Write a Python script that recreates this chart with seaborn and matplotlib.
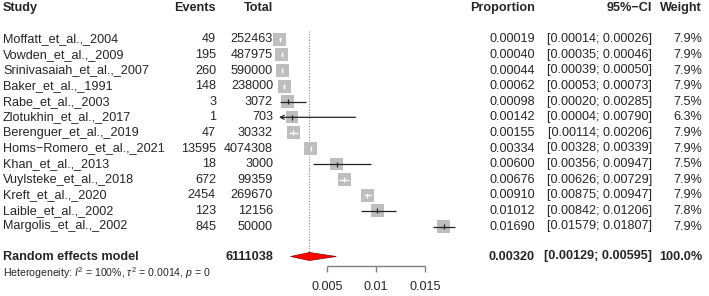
import numpy as np
import pandas as pd
import matplotlib
matplotlib.use("Agg")
import matplotlib.pyplot as plt
import seaborn as sns

# dados do forest plot
studies = ["Moffatt_et_al._2004", "Vowden_et_al._2009", "Srinivasaiah_et_al._2007",
           "Baker_et_al._1991", "Rabe_et_al._2003", "Zlotukhin_et_al._2017",
           "Berenguer_et_al._2019", "Homs\u2212Romero_et_al._2021", "Khan_et_al._2013",
           "Vuylsteke_et_al._2018", "Kreft_et_al._2020", "Laible_et_al._2002",
           "Margolis_et_al._2002"]
studies = [s.replace("al._", "al.,_") for s in studies]
events = [49, 195, 260, 148, 3, 1, 47, 13595, 18, 672, 2454, 123, 845]
totals = [252463, 487975, 590000, 238000, 3072, 703, 30332, 4074308, 3000, 99359, 269670, 12156, 50000]
prop = [0.00019, 0.00040, 0.00044, 0.00062, 0.00098, 0.00142, 0.00155, 0.00334, 0.00600,
        0.00676, 0.00910, 0.01012, 0.01690]
lower = [0.00014, 0.00035, 0.00039, 0.00053, 0.00020, 0.00004, 0.00114, 0.00328, 0.00356,
         0.00626, 0.00875, 0.00842, 0.01579]
upper = [0.00026, 0.00046, 0.00050, 0.00073, 0.00285, 0.00790, 0.00206, 0.00339, 0.00947,
         0.00729, 0.00947, 0.01206, 0.01807]
weights = [7.9, 7.9, 7.9, 7.9, 7.5, 6.3, 7.9, 7.9, 7.5, 7.9, 7.9, 7.8, 7.9]
pooled = 0.00320
pooled_lo = 0.00129
pooled_hi = 0.00595
xticks = [0.005, 0.01, 0.015]
xtick_labels = ["0.005", "0.01", "0.015"]

sns.set_style("white")
plt.rcParams['font.family'] = ['Liberation Sans', 'DejaVu Sans']
plt.rcParams['mathtext.fontset'] = 'custom'
plt.rcParams['mathtext.rm'] = 'Liberation Sans'
plt.rcParams['mathtext.it'] = 'Liberation Sans:italic'

W, H = 709, 296
fig = plt.figure(figsize=(W / 100, H / 100), dpi=100)

# eixo de texto em coordenadas de pixel
axt = fig.add_axes([0, 0, 1, 1])
axt.set_xlim(0, W)
axt.set_ylim(H, 0)
axt.axis("off")

# eixo do forest plot (escala de dados)
px0, pxu = 278, 9800.0   # pixel do zero e pixels por unidade
L, R = 268, 462
axf = fig.add_axes([L / W, 0, (R - L) / W, 1])
axf.set_xlim((L - px0) / pxu, (R - px0) / pxu)
axf.set_ylim(H, 0)
axf.axis("off")

fs = 9.1
y_head = 8
y0, dy = 39.3, 15.6
ys = [y0 + i * dy for i in range(len(studies))]
y_pool = 256.5
y_het = 273
y_axis = 265.5

# cabeçalho
cols = [(3, "left", "Study"), (216, "right", "Events"), (273, "right", "Total"),
        (535, "right", "Proportion"), (652, "right", "95%\u2212CI"), (702, "right", "Weight")]
for x, ha, t in cols:
    axt.text(x, y_head, t, ha=ha, va="center", fontsize=fs, fontweight="bold")

for i, y in enumerate(ys):
    row = [studies[i], str(events[i]), str(totals[i]), f"{prop[i]:.5f}",
           f"[{lower[i]:.5f}; {upper[i]:.5f}]", f"{weights[i]:.1f}%"]
    for (x, ha, _), t in zip(cols, row):
        t = t.replace("-", "\u2212")
        axt.text(x, y, t, ha=ha, va="center", fontsize=fs)

pool_row = ["Random effects model", "", str(sum(totals)), f"{pooled:.5f}",
            f"[{pooled_lo:.5f}; {pooled_hi:.5f}]", "100.0%"]
for (x, ha, _), t in zip(cols, pool_row):
    axt.text(x, y_pool, t, ha=ha, va="center", fontsize=fs, fontweight="bold")

axt.text(3, y_het, r"Heterogeneity: $I^2$ = 100%, $\tau^2$ = 0.0014, $p$ = 0",
         ha="left", va="center", fontsize=7.6)

# linha pontilhada do efeito combinado
axf.vlines(pooled, ys[0] - 8, y_pool, color="#888888", linestyle=(0, (1, 1.5)), lw=0.8)

# quadrados (área proporcional ao peso)
df = pd.DataFrame({"prop": prop, "y": ys, "weight": weights})
k = 87.6 / 7.9
sns.scatterplot(data=df, x="prop", y="y", size="weight",
                sizes=(min(weights) * k, max(weights) * k),
                size_norm=(min(weights), max(weights)),
                marker="s", color="#BEBEBE", edgecolor="none", legend=False, ax=axf, zorder=2)

clip_lo = 0.0001
for i, y in enumerate(ys):
    half = 13 * np.sqrt(weights[i] / 7.9) / 2 / pxu
    inside = (prop[i] - lower[i] < half) and (upper[i] - prop[i] < half)
    c = "white" if inside else "#222222"
    lo = max(lower[i], clip_lo)
    if lower[i] < clip_lo:
        axf.annotate("", xy=(clip_lo, y), xytext=(upper[i], y),
                     arrowprops=dict(arrowstyle="->", lw=0.9, color=c,
                                     shrinkA=0, shrinkB=0, mutation_scale=7), zorder=3)
    else:
        axf.hlines(y, lo, upper[i], color=c, lw=0.9, zorder=3)
    axf.vlines(prop[i], y - 2.5, y + 2.5, color=c, lw=0.9, zorder=3)

# diamante do modelo de efeitos aleatórios
axf.fill([pooled_lo, pooled, pooled_hi, pooled], [y_pool, y_pool - 4, y_pool, y_pool + 4],
         facecolor="#FF0000", edgecolor="#8B0000", lw=0.5, zorder=3)

# eixo x desenhado à mão
axf.hlines(y_axis, xticks[0], xticks[-1], color="#808080", lw=1)
axf.vlines(xticks, y_axis, y_axis + 6, color="#808080", lw=1)
for xt, lab in zip(xticks, xtick_labels):
    axf.text(xt, 286.5, lab, ha="center", va="center", fontsize=fs)

fig.savefig("out.png", dpi=100)
